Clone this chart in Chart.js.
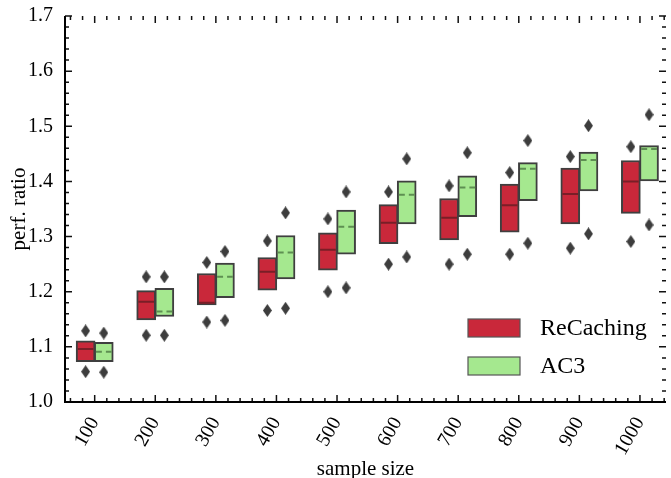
<!DOCTYPE html>
<html>
<head>
<meta charset="utf-8">
<script src="https://cdn.jsdelivr.net/npm/chart.js@4.4.0/dist/chart.umd.min.js"></script>
<style>
  html, body { margin: 0; padding: 0; background: #fff; }
</style>
</head>
<body>
<canvas id="chart" width="671" height="478"></canvas>
<script>
// ------------------------
// DATA
// ------------------------

const sampleSizes = ['100', '200', '300', '400', '500', '600', '700', '800', '900', '1000']
const yTicks = [1.0, 1.1, 1.2, 1.3, 1.4, 1.5, 1.6, 1.7]

// ReCaching boxes
const reQ1 = [1.073, 1.149, 1.176, 1.203, 1.239, 1.287, 1.294, 1.308, 1.323, 1.342]
const reQ3 = [1.111, 1.202, 1.233, 1.262, 1.307, 1.358, 1.369, 1.395, 1.424, 1.438]
const reMid = [1.096, 1.182, 1.180, 1.236, 1.276, 1.325, 1.334, 1.357, 1.377, 1.400]
const reLow = [1.055, 1.121, 1.145, 1.166, 1.200, 1.250, 1.250, 1.268, 1.279, 1.291]
const reHigh = [1.129, 1.227, 1.253, 1.292, 1.332, 1.381, 1.392, 1.416, 1.445, 1.463]

// AC3 boxes
const acQ1 = [1.073, 1.155, 1.189, 1.223, 1.268, 1.323, 1.336, 1.365, 1.383, 1.401]
const acQ3 = [1.108, 1.206, 1.252, 1.302, 1.348, 1.401, 1.410, 1.434, 1.453, 1.465]
const acMid = [1.091, 1.164, 1.227, 1.271, 1.318, 1.376, 1.389, 1.423, 1.439, 1.459]
const acLow = [1.054, 1.121, 1.148, 1.170, 1.207, 1.263, 1.268, 1.288, 1.305, 1.321]
const acHigh = [1.125, 1.227, 1.273, 1.343, 1.381, 1.441, 1.452, 1.474, 1.501, 1.521]

// ------------------------
// HELPERS
// ------------------------

const FONT = '"Liberation Serif", "DejaVu Serif", serif'
const RED = '#c9283a'
const GREEN = '#a5e88f'
const EDGE = '#3f3f3f'
const HALF = 0.3   // width of one box in category units

function boxData(q1, q3, shift) {
  return q1.map((v, i) => ({x: i + shift, y: [v, q3[i]]}))
}

function midData(mid, from, to) {
  let pts = []
  mid.forEach((m, i) => {
    pts.push({x: i + from, y: m}, {x: i + to, y: m}, {x: i + 0.5, y: null})
  })
  return pts
}

function flierData(low, high, shift) {
  let pts = []
  low.forEach((v, i) => {
    pts.push({x: i + shift, y: v}, {x: i + shift, y: high[i]})
  })
  return pts
}

// thin diamond marker
const diamond = document.createElement('canvas')
diamond.width = 9
diamond.height = 13
;(() => {
  const c = diamond.getContext('2d')
  c.fillStyle = '#3d3d3d'
  c.beginPath()
  c.moveTo(4.5, 0)
  c.lineTo(9, 6.5)
  c.lineTo(4.5, 13)
  c.lineTo(0, 6.5)
  c.closePath()
  c.fill()
})()

// ------------------------
// PLUGINS
// ------------------------

// inward major/minor ticks on all four sides, left & bottom spines
const insideTicks = {
  id: 'insideTicks',
  afterDraw(chart) {
    const {ctx, chartArea: a, scales: {x, y}} = chart
    ctx.save()
    ctx.strokeStyle = '#111'
    ctx.lineWidth = 1.5
    ctx.beginPath()
    for (let k = 0; k <= 35; k++) {
      const py = y.getPixelForValue(1.0 + k * 0.02)
      const len = k % 5 === 0 ? 7 : 4
      ctx.moveTo(a.left, py); ctx.lineTo(a.left + len, py)
      ctx.moveTo(a.right, py); ctx.lineTo(a.right - len, py)
    }
    for (let k = -2; k <= 47; k++) {
      const v = k * 0.2
      if (v < x.min || v > x.max) continue
      const px = x.getPixelForValue(v)
      const len = k % 5 === 0 ? 7 : 4
      ctx.moveTo(px, a.bottom); ctx.lineTo(px, a.bottom - len)
      ctx.moveTo(px, a.top); ctx.lineTo(px, a.top + len)
    }
    ctx.stroke()
    ctx.lineWidth = 2
    ctx.strokeStyle = '#000'
    ctx.beginPath()
    ctx.moveTo(a.left, a.top)
    ctx.lineTo(a.left, a.bottom)
    ctx.lineTo(a.right, a.bottom)
    ctx.stroke()
    ctx.restore()
  }
}

// legend drawn inside the plot, lower right
const boxLegend = {
  id: 'boxLegend',
  afterDraw(chart) {
    const ctx = chart.ctx
    const items = chart.data.datasets.filter(d => d.type === 'bar')
    ctx.save()
    ctx.font = '24px ' + FONT
    ctx.textBaseline = 'middle'
    items.forEach((d, i) => {
      const top = 319 + i * 38
      ctx.fillStyle = d.backgroundColor
      ctx.fillRect(468, top, 52, 18)
      ctx.strokeStyle = '#555'
      ctx.lineWidth = 1.2
      ctx.strokeRect(468, top, 52, 18)
      ctx.fillStyle = '#000'
      ctx.fillText(d.label, 540, top + 10)
    })
    ctx.restore()
  }
}

// ------------------------
// CHART
// ------------------------

const chartCanvas = document.querySelector('#chart')

new Chart(chartCanvas, {
  type: 'bar',
  data: {
    datasets: [
      {
        type: 'line', label: 'ReCaching median', data: midData(reMid, -HALF + 0.02, -0.02),
        borderColor: '#7a1e27', borderWidth: 2, pointRadius: 0, spanGaps: false, order: 2
      },
      {
        type: 'line', label: 'AC3 median', data: midData(acMid, 0.02, HALF - 0.02),
        borderColor: '#5e8f52', borderWidth: 2, borderDash: [6, 4], pointRadius: 0, spanGaps: false, order: 2
      },
      {
        type: 'scatter', label: 'ReCaching outliers', data: flierData(reLow, reHigh, -HALF / 2),
        pointStyle: diamond, order: 1
      },
      {
        type: 'scatter', label: 'AC3 outliers', data: flierData(acLow, acHigh, HALF / 2),
        pointStyle: diamond, order: 1
      },
      {
        type: 'bar', label: 'ReCaching', data: boxData(reQ1, reQ3, -HALF / 2),
        backgroundColor: RED, borderColor: EDGE, borderWidth: 2, borderSkipped: false,
        barThickness: 19, grouped: false, order: 3
      },
      {
        type: 'bar', label: 'AC3', data: boxData(acQ1, acQ3, HALF / 2),
        backgroundColor: GREEN, borderColor: EDGE, borderWidth: 2, borderSkipped: false,
        barThickness: 19, grouped: false, order: 3
      }
    ]
  },
  options: {
    responsive: false,
    animation: false,
    layout: {padding: {top: 16, right: 3, left: 0, bottom: 0}},
    plugins: {
      legend: {display: false},
      tooltip: {enabled: false}
    },
    scales: {
      x: {
        type: 'linear',
        min: -0.49,
        max: 9.43,
        offset: false,
        grid: {display: false},
        border: {display: false},
        afterBuildTicks: (scale) => {
          scale.ticks = sampleSizes.map((s, i) => ({value: i}))
        },
        afterFit: (scale) => { scale.height = 76 },
        ticks: {
          callback: (v) => sampleSizes[v],
          minRotation: 60,
          maxRotation: 60,
          padding: 3,
          color: '#000',
          font: {family: FONT, size: 20}
        },
        title: {
          display: true,
          text: 'sample size',
          color: '#000',
          font: {family: FONT, size: 21, lineHeight: 1},
          padding: {top: 0, bottom: -2}
        }
      },
      y: {
        min: 1.0,
        max: 1.7,
        grid: {display: false},
        border: {display: false},
        afterBuildTicks: (scale) => {
          scale.ticks = yTicks.map(v => ({value: v}))
        },
        afterFit: (scale) => { scale.width = 65 },
        ticks: {
          callback: (v) => v.toFixed(1),
          padding: 4,
          color: '#000',
          font: {family: FONT, size: 20}
        },
        title: {
          display: true,
          text: 'perf. ratio',
          color: '#000',
          font: {family: FONT, size: 21},
          padding: {top: 7, bottom: 0}
        }
      }
    }
  },
  plugins: [insideTicks, boxLegend]
})
</script>
</body>
</html>
